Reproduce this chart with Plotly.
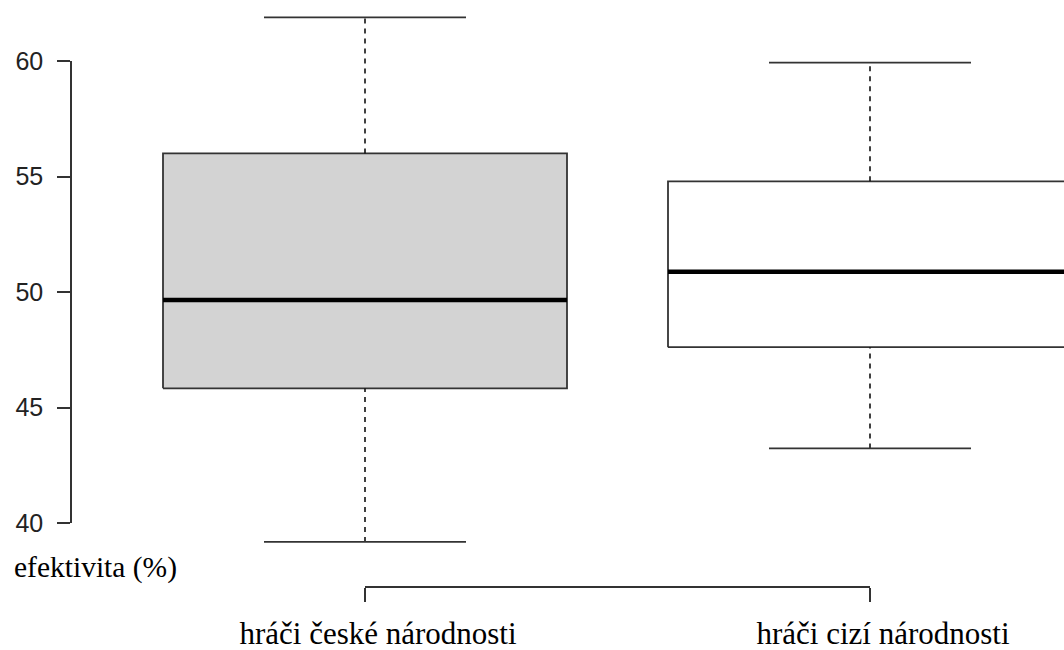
import plotly.graph_objects as go

# Summary statistics of player efficiency (%) per group
groups = ["hráči české národnosti", "hráči cizí národnosti"]
lower_whisker = [39.18, 43.23]
q1 = [45.83, 47.61]
median = [49.65, 50.88]
q3 = [56.00, 54.79]
upper_whisker = [61.89, 59.93]
box_fill = ["#d3d3d3", "#ffffff"]

y_ticks = [40, 45, 50, 55, 60]
y_label = "efektivita (%)"

BOX_HALF = 0.4
CAP_HALF = 0.2
EDGE = "#333333"
SERIF = "Liberation Serif, Times New Roman, serif"
SANS = "Liberation Sans, Arial, sans-serif"

fig = go.Figure()

for i, name in enumerate(groups):
    c = i + 1
    common = dict(xaxis="x", yaxis="y2", showlegend=False, hoverinfo="skip")
    # box body
    fig.add_trace(go.Scatter(
        x=[c - BOX_HALF, c + BOX_HALF, c + BOX_HALF, c - BOX_HALF, c - BOX_HALF],
        y=[q1[i], q1[i], q3[i], q3[i], q1[i]],
        mode="lines", fill="toself", fillcolor=box_fill[i],
        line=dict(color=EDGE, width=1.8), **common))
    # dashed whiskers
    for a, b in ((q3[i], upper_whisker[i]), (lower_whisker[i], q1[i])):
        fig.add_trace(go.Scatter(
            x=[c, c], y=[a, b], mode="lines",
            line=dict(color="#111111", width=1.6, dash="5px,5px"), **common))
    # whisker caps
    for v in (upper_whisker[i], lower_whisker[i]):
        fig.add_trace(go.Scatter(
            x=[c - CAP_HALF, c + CAP_HALF], y=[v, v], mode="lines",
            line=dict(color=EDGE, width=1.8), **common))
    # median
    fig.add_trace(go.Scatter(
        x=[c - BOX_HALF, c + BOX_HALF], y=[median[i], median[i]], mode="lines",
        line=dict(color="#000000", width=4.5), **common))

# empty traces so the display-only axes are laid out
fig.add_trace(go.Scatter(x=[None], y=[None], xaxis="x", yaxis="y",
                         showlegend=False, hoverinfo="skip"))
fig.add_trace(go.Scatter(x=[None], y=[None], xaxis="x2", yaxis="y",
                         showlegend=False, hoverinfo="skip"))

W, H = 1064, 650
px_per_unit_x = 505.0
x0 = 1 - 365 / px_per_unit_x
x1 = x0 + W / px_per_unit_x
px_per_unit_y = 23.1
y_top = 60 + 61 / px_per_unit_y
y_bot = y_top - H / px_per_unit_y

hidden = dict(visible=False, showgrid=False, zeroline=False,
              fixedrange=True, automargin=False)

fig.update_layout(
    template="none",
    width=W, height=H,
    margin=dict(l=0, r=0, t=0, b=0, autoexpand=False),
    paper_bgcolor="white",
    plot_bgcolor="rgba(0,0,0,0)",
    xaxis=dict(domain=[0, 1], range=[x0, x1], **hidden),
    yaxis2=dict(domain=[0, 1], range=[y_bot, y_top], anchor="x", **hidden),
    # value axis spanning 40-60 only
    yaxis=dict(
        domain=[(H - 523) / H, (H - 61) / H], range=[40, 60],
        anchor="free", position=71 / W, automargin=False,
        showline=True, linecolor=EDGE, linewidth=1.6,
        ticks="outside", ticklen=13, tickwidth=1.6, tickcolor=EDGE,
        tickvals=y_ticks, ticktext=[str(t) for t in y_ticks],
        tickfont=dict(family=SANS, size=25, color="#222222"),
        ticklabelstandoff=9,
        showgrid=False, zeroline=False, fixedrange=True,
    ),
    # group axis bracket between the two boxes
    xaxis2=dict(
        domain=[365 / W, 870 / W], range=[1, 2],
        anchor="free", position=(H - 587) / H, automargin=False,
        showline=True, linecolor=EDGE, linewidth=1.6,
        ticks="outside", ticklen=14, tickwidth=1.6, tickcolor=EDGE,
        tickvals=[1, 2], ticktext=groups,
        tickfont=dict(family=SERIF, size=31, color="#000000"),
        ticklabelstandoff=5, ticklabelshift=13,
        showgrid=False, zeroline=False, fixedrange=True,
    ),
    annotations=[dict(
        text=y_label, xref="paper", yref="paper",
        x=12 / W, y=(H - 567) / H, xanchor="left", yanchor="middle",
        showarrow=False,
        font=dict(family=SERIF, size=29.5, color="#000000"),
    )],
)

fig.write_html("out.html")
